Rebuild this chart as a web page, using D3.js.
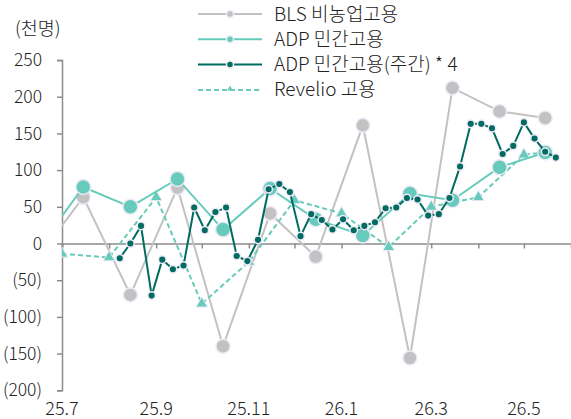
<!DOCTYPE html>
<html>
<head>
<meta charset="utf-8">
<script src="https://cdn.jsdelivr.net/npm/d3@7"></script>
<style>
  body { margin: 0; background: #fff; }
  text { font-family: "Noto Sans CJK KR", "Noto Sans", sans-serif; font-weight: 300; fill: #222; }
</style>
</head>
<body>
<svg id="chart" width="571" height="419"></svg>
<script>
// monthly series (plotted mid-month)
var monthDates = ["2025-06-15","2025-07-15","2025-08-15","2025-09-15","2025-10-15","2025-11-15",
                  "2025-12-15","2026-01-15","2026-02-15","2026-03-15","2026-04-15","2026-05-15"];
var blsValues = [-20, 63, -70, 76, -140, 41, -18, 161, -156, 212, 180, 171];
var adpValues = [-8, 77, 50, 88, 19, 75, 33, 11, 68, 59, 104, 124];

// Revelio (start of month)
var revDates = ["2025-07-01","2025-08-01","2025-09-01","2025-10-01","2025-11-01","2025-12-01",
                "2026-01-01","2026-02-01","2026-03-01","2026-04-01","2026-05-01","2026-05-15"];
var revValues = [-14, -19, 63, -82, -25, 59, 41, -5, 50, 63, 121, 124];

// ADP weekly * 4
var weekDates = ["2025-08-08","2025-08-15","2025-08-22","2025-08-29","2025-09-05","2025-09-12",
  "2025-09-19","2025-09-26","2025-10-03","2025-10-10","2025-10-17","2025-10-24","2025-10-31",
  "2025-11-07","2025-11-14","2025-11-21","2025-11-28","2025-12-05","2025-12-12","2025-12-19",
  "2025-12-26","2026-01-02","2026-01-09","2026-01-16","2026-01-23","2026-01-30","2026-02-06",
  "2026-02-13","2026-02-20","2026-02-27","2026-03-06","2026-03-13","2026-03-20","2026-03-27",
  "2026-04-03","2026-04-10","2026-04-17","2026-04-24","2026-05-01","2026-05-08","2026-05-15",
  "2026-05-22"];
var weekValues = [-20, 0, 24, -71, -22, -35, -30, 49, 18, 43, 49, -17, -24, 5, 74, 81, 70, 10,
  40, 32, 19, 33, 18, 24, 29, 48, 49, 62, 60, 38, 40, 62, 105, 163, 163, 157, 122, 133, 165,
  143, 125, 117];

var xTickDates = ["2025-07-01","2025-08-01","2025-09-01","2025-10-01","2025-11-01","2025-12-01",
  "2026-01-01","2026-02-01","2026-03-01","2026-04-01","2026-05-01"];
var xTickLabels = ["25.7","","25.9","","25.11","","26.1","","26.3","","26.5"];
var yTicks = [-200, -150, -100, -50, 0, 50, 100, 150, 200, 250];

var cGray = "#c3c2c3", cTeal = "#67cbbb", cDark = "#006b60", cRing = "#efe9f8";

var svg = d3.select("#chart");
var parse = d3.utcParse("%Y-%m-%d");
var x = d3.scaleUtc().domain([parse("2025-07-01"), parse("2026-06-01")]).range([62, 571]);
var y = d3.scaleLinear().domain([-200, 250]).range([390.3, 60]);

svg.append("defs").append("clipPath").attr("id", "plotClip")
  .append("rect").attr("x", 62).attr("y", 0).attr("width", 509).attr("height", 419);

// y axis
var yAxis = svg.append("g").attr("transform", "translate(62,0)")
  .call(d3.axisLeft(y).tickValues(yTicks).tickSize(5).tickPadding(15)
    .tickFormat(d => d < 0 ? "(" + Math.abs(d) + ")" : d));
yAxis.select(".domain").attr("stroke", "#8c8c8c").attr("stroke-width", 1.5);
yAxis.selectAll(".tick line").attr("stroke", "#8c8c8c").attr("stroke-width", 1.5);
yAxis.selectAll(".tick text").attr("font-size", 17.5).attr("fill", "#222");

// x axis at zero
var xAxis = svg.append("g").attr("transform", "translate(0," + y(0) + ")")
  .call(d3.axisBottom(x).tickValues(xTickDates.map(parse)).tickSize(5).tickFormat(""));
xAxis.select(".domain").attr("stroke", "#8c8c8c").attr("stroke-width", 1.5);
xAxis.selectAll(".tick line").attr("stroke", "#8c8c8c").attr("stroke-width", 1.5);

// x labels at bottom
svg.append("g").selectAll("text").data(xTickDates)
  .enter().append("text")
  .attr("x", d => x(parse(d)))
  .attr("y", 415)
  .attr("text-anchor", "middle")
  .attr("font-size", 18)
  .text((d, i) => xTickLabels[i]);

svg.append("text").attr("x", 15).attr("y", 35).attr("font-size", 18.5).text("(천명)");

var plot = svg.append("g").attr("clip-path", "url(#plotClip)");
var line = d3.line().x(d => x(d.date)).y(d => y(d.value));
function zip(dates, values) {
  return dates.map((d, i) => ({ date: parse(d), value: values[i] }));
}
var bls = zip(monthDates, blsValues);
var adp = zip(monthDates, adpValues);
var rev = zip(revDates, revValues);
var week = zip(weekDates, weekValues);

// BLS
plot.append("path").datum(bls).attr("d", line)
  .attr("fill", "none").attr("stroke", cGray).attr("stroke-width", 2);
plot.selectAll(".blsDot").data(bls).enter().append("circle")
  .attr("cx", d => x(d.date)).attr("cy", d => y(d.value)).attr("r", 7)
  .attr("fill", cGray).attr("stroke", cRing).attr("stroke-width", 1.5);

// Revelio
plot.append("path").datum(rev).attr("d", line)
  .attr("fill", "none").attr("stroke", cTeal).attr("stroke-width", 2)
  .attr("stroke-dasharray", "5,3");
plot.selectAll(".revTri").data(rev).enter().append("path")
  .attr("transform", d => "translate(" + x(d.date) + "," + y(d.value) + ")")
  .attr("d", d3.symbol().type(d3.symbolTriangle).size(60))
  .attr("fill", cTeal).attr("stroke", cRing).attr("stroke-width", 1);

// ADP monthly
plot.append("path").datum(adp).attr("d", line)
  .attr("fill", "none").attr("stroke", cTeal).attr("stroke-width", 2);
plot.selectAll(".adpDot").data(adp).enter().append("circle")
  .attr("cx", d => x(d.date)).attr("cy", d => y(d.value)).attr("r", 7.5)
  .attr("fill", cTeal).attr("stroke", cRing).attr("stroke-width", 1.5);

// ADP weekly
plot.append("path").datum(week).attr("d", line)
  .attr("fill", "none").attr("stroke", cDark).attr("stroke-width", 2);
plot.selectAll(".weekDot").data(week).enter().append("circle")
  .attr("cx", d => x(d.date)).attr("cy", d => y(d.value)).attr("r", 3.8)
  .attr("fill", cDark).attr("stroke", cRing).attr("stroke-width", 1.5);

// legend
var legendNames = ["BLS 비농업고용", "ADP 민간고용", "ADP 민간고용(주간) * 4", "Revelio 고용"];
var legendColors = [cGray, cTeal, cDark, cTeal];
var lg = svg.append("g").selectAll("g").data(legendNames).enter().append("g")
  .attr("transform", (d, i) => "translate(0," + (14 + i * 25.3) + ")");
lg.append("line").attr("x1", 198).attr("x2", 262)
  .attr("stroke", (d, i) => legendColors[i]).attr("stroke-width", 2)
  .attr("stroke-dasharray", (d, i) => i === 3 ? "5,3" : null);
lg.filter((d, i) => i < 3).append("circle").attr("cx", 230).attr("r", 3.5)
  .attr("fill", (d, i) => legendColors[i]).attr("stroke", cRing).attr("stroke-width", 1.5);
lg.filter((d, i) => i === 3).append("path").attr("transform", "translate(230,-1)")
  .attr("d", d3.symbol().type(d3.symbolTriangle).size(14)).attr("fill", cTeal);
lg.append("text").attr("x", 274).attr("y", 6.5).attr("font-size", 19).text(d => d);
</script>
</body>
</html>
